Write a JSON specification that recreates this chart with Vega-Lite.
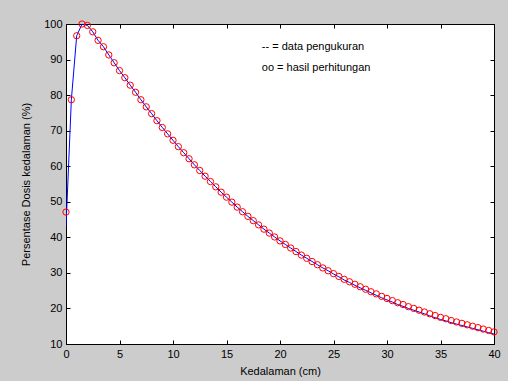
{
  "$schema": "https://vega.github.io/schema/vega-lite/v6.json",
  "width": 428,
  "height": 320,
  "autosize": {"type": "none"},
  "padding": {"left": 66, "top": 24, "right": 14, "bottom": 37},
  "background": "#cccccc",
  "config": {
    "view": {"fill": "white", "stroke": "black", "strokeWidth": 1},
    "axis": {
      "domain": false,
      "grid": false,
      "tickColor": "black",
      "tickSize": -4,
      "labelFlush": false,
      "labelFont": "Liberation Sans",
      "labelFontSize": 11,
      "labelColor": "black",
      "titleFont": "Liberation Sans",
      "titleFontSize": 11,
      "titleFontWeight": "normal",
      "titleColor": "black"
    },
    "text": {"font": "Liberation Sans"}
  },
  "datasets": {
    "calc": [
      {"x":0,"y":47.1},{"x":0.5,"y":78.7},{"x":1,"y":96.7},{"x":1.5,"y":100},{"x":2,"y":99.6},{"x":2.5,"y":97.8},
      {"x":3,"y":95.4},{"x":3.5,"y":93.6},{"x":4,"y":91.3},{"x":4.5,"y":89.1},{"x":5,"y":86.9},{"x":5.5,"y":84.9},
      {"x":6,"y":82.8},{"x":6.5,"y":80.8},{"x":7,"y":78.7},{"x":7.5,"y":76.7},{"x":8,"y":74.8},{"x":8.5,"y":72.8},
      {"x":9,"y":70.9},{"x":9.5,"y":69.1},{"x":10,"y":67.3},{"x":10.5,"y":65.5},{"x":11,"y":63.8},{"x":11.5,"y":62.1},
      {"x":12,"y":60.4},{"x":12.5,"y":58.8},{"x":13,"y":57.2},{"x":13.5,"y":55.7},{"x":14,"y":54.2},{"x":14.5,"y":52.7},
      {"x":15,"y":51.3},{"x":15.5,"y":49.9},{"x":16,"y":48.5},{"x":16.5,"y":47.2},{"x":17,"y":45.9},{"x":17.5,"y":44.7},
      {"x":18,"y":43.5},{"x":18.5,"y":42.3},{"x":19,"y":41.2},{"x":19.5,"y":40.1},{"x":20,"y":39.0},{"x":20.5,"y":38.0},
      {"x":21,"y":37.0},{"x":21.5,"y":36.0},{"x":22,"y":35.0},{"x":22.5,"y":34.1},{"x":23,"y":33.2},{"x":23.5,"y":32.3},
      {"x":24,"y":31.4},{"x":24.5,"y":30.6},{"x":25,"y":29.8},{"x":25.5,"y":29.0},{"x":26,"y":28.2},{"x":26.5,"y":27.5},
      {"x":27,"y":26.8},{"x":27.5,"y":26.1},{"x":28,"y":25.4},{"x":28.5,"y":24.7},{"x":29,"y":24.1},{"x":29.5,"y":23.4},
      {"x":30,"y":22.8},{"x":30.5,"y":22.2},{"x":31,"y":21.6},{"x":31.5,"y":21.1},{"x":32,"y":20.5},{"x":32.5,"y":20.0},
      {"x":33,"y":19.5},{"x":33.5,"y":19.0},{"x":34,"y":18.5},{"x":34.5,"y":18.0},{"x":35,"y":17.5},{"x":35.5,"y":17.1},
      {"x":36,"y":16.6},{"x":36.5,"y":16.2},{"x":37,"y":15.8},{"x":37.5,"y":15.4},{"x":38,"y":15.0},{"x":38.5,"y":14.6},
      {"x":39,"y":14.2},{"x":39.5,"y":13.8},{"x":40,"y":13.4}
    ],
    "meas": [
      {"x":0,"y":43.0},{"x":0.5,"y":78.7},{"x":1,"y":96.7},{"x":1.5,"y":100},{"x":2,"y":99.6},{"x":2.5,"y":97.8},
      {"x":3,"y":95.4},{"x":3.5,"y":93.6},{"x":4,"y":91.3},{"x":4.5,"y":89.1},{"x":5,"y":86.9},{"x":5.5,"y":84.9},
      {"x":6,"y":82.8},{"x":6.5,"y":80.8},{"x":7,"y":78.7},{"x":7.5,"y":76.7},{"x":8,"y":74.8},{"x":8.5,"y":72.8},
      {"x":9,"y":70.9},{"x":9.5,"y":69.1},{"x":10,"y":67.3},{"x":10.5,"y":65.5},{"x":11,"y":63.8},{"x":11.5,"y":62.1},
      {"x":12,"y":60.4},{"x":12.5,"y":58.8},{"x":13,"y":57.2},{"x":13.5,"y":55.7},{"x":14,"y":54.2},{"x":14.5,"y":52.7},
      {"x":15,"y":51.3},{"x":15.5,"y":49.9},{"x":16,"y":48.5},{"x":16.5,"y":47.2},{"x":17,"y":45.9},{"x":17.5,"y":44.7},
      {"x":18,"y":43.5},{"x":18.5,"y":42.3},{"x":19,"y":41.2},{"x":19.5,"y":40.1},{"x":20,"y":39.0},{"x":20.5,"y":38.0},
      {"x":21,"y":37.0},{"x":21.5,"y":36.0},{"x":22,"y":35.0},{"x":22.5,"y":34.1},{"x":23,"y":33.2},{"x":23.5,"y":32.3},
      {"x":24,"y":31.4},{"x":24.5,"y":30.6},{"x":25,"y":29.7},{"x":25.5,"y":28.9},{"x":26,"y":28.0},{"x":26.5,"y":27.3},
      {"x":27,"y":26.5},{"x":27.5,"y":25.8},{"x":28,"y":25.1},{"x":28.5,"y":24.4},{"x":29,"y":23.7},{"x":29.5,"y":23.0},
      {"x":30,"y":22.4},{"x":30.5,"y":21.8},{"x":31,"y":21.1},{"x":31.5,"y":20.6},{"x":32,"y":20.0},{"x":32.5,"y":19.5},
      {"x":33,"y":19.0},{"x":33.5,"y":18.5},{"x":34,"y":17.9},{"x":34.5,"y":17.4},{"x":35,"y":16.9},{"x":35.5,"y":16.5},
      {"x":36,"y":16.0},{"x":36.5,"y":15.6},{"x":37,"y":15.2},{"x":37.5,"y":14.8},{"x":38,"y":14.4},{"x":38.5,"y":14.0},
      {"x":39,"y":13.6},{"x":39.5,"y":13.2},{"x":40,"y":12.8}
    ],
    "notes": [
      {"x":18.3,"y":93.6,"label":"-- = data pengukuran"},
      {"x":18.3,"y":87.7,"label":"oo = hasil perhitungan"}
    ]
  },
  "resolve": {"axis": {"x": "independent", "y": "independent"}},
  "layer": [
    {
      "data": {"name": "meas"},
      "mark": {"type": "line", "color": "#0000ff", "strokeWidth": 1, "clip": true},
      "encoding": {
        "x": {"field": "x", "type": "quantitative", "scale": {"domain": [0, 40], "nice": false, "zero": false},
              "axis": {"orient": "bottom", "values": [0,5,10,15,20,25,30,35,40], "title": "Kedalaman (cm)", "labelPadding": 8, "titlePadding": 6}},
        "y": {"field": "y", "type": "quantitative", "scale": {"domain": [10, 100], "nice": false, "zero": false},
              "axis": {"orient": "left", "values": [10,20,30,40,50,60,70,80,90,100], "title": "Persentase Dosis kedalaman (%)", "labelPadding": 8, "titlePadding": 12}}
      }
    },
    {
      "data": {"name": "calc"},
      "mark": {"type": "point", "shape": "circle", "filled": false, "color": "#ff0000", "size": 40, "strokeWidth": 1, "opacity": 1},
      "encoding": {
        "x": {"field": "x", "type": "quantitative",
              "axis": {"orient": "top", "values": [0,5,10,15,20,25,30,35,40], "labels": false, "title": null}},
        "y": {"field": "y", "type": "quantitative",
              "axis": {"orient": "right", "values": [10,20,30,40,50,60,70,80,90,100], "labels": false, "title": null}}
      }
    },
    {
      "data": {"name": "notes"},
      "mark": {"type": "text", "align": "left", "baseline": "middle", "fontSize": 11, "color": "black"},
      "encoding": {
        "x": {"field": "x", "type": "quantitative", "axis": null},
        "y": {"field": "y", "type": "quantitative", "axis": null},
        "text": {"field": "label"}
      }
    }
  ]
}
